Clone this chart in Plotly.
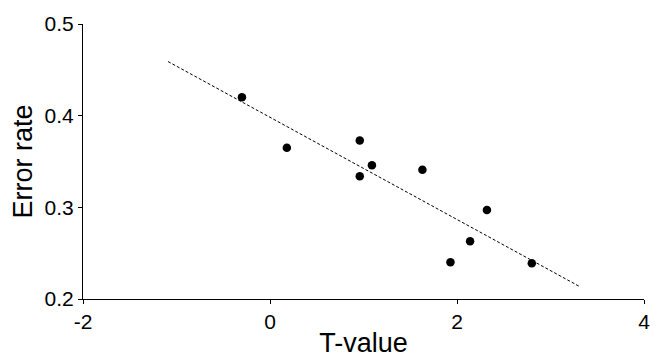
import numpy as np
import plotly.graph_objects as go

# Observations: T-value vs error rate
t_value = [-0.30, 0.18, 0.96, 0.96, 1.09, 1.63, 2.32, 2.14, 1.93, 2.80]
error_rate = [0.420, 0.365, 0.373, 0.334, 0.346, 0.341, 0.297, 0.263, 0.240, 0.239]

# Extent of the fitted regression line
fit_range = [-1.09, 3.32]

x_ticks = [-2, 0, 2, 4]
y_ticks = [0.2, 0.3, 0.4, 0.5]

slope, intercept = np.polyfit(t_value, error_rate, 1)
fit_x = np.array(fit_range)
fit_y = slope * fit_x + intercept

fig = go.Figure()
fig.add_trace(go.Scatter(
    x=fit_x, y=fit_y, mode="lines",
    line=dict(color="black", width=1, dash="3px,2px"),
    hoverinfo="skip", showlegend=False,
))
fig.add_trace(go.Scatter(
    x=t_value, y=error_rate, mode="markers",
    marker=dict(color="black", size=8.5),
    showlegend=False,
))

family = "Liberation Sans, Arial, sans-serif"
axis_font = dict(family=family, size=21, color="black")
title_font = dict(family=family, size=27, color="black")

fig.update_layout(
    width=663, height=364,
    margin=dict(l=83, r=19, t=16, b=63),
    paper_bgcolor="white", plot_bgcolor="white",
    font=axis_font,
    xaxis=dict(
        range=[-2, 4], tickvals=x_ticks, ticktext=[str(v) for v in x_ticks],
        showgrid=False, zeroline=False, showline=True, linecolor="black", linewidth=1,
        ticks="outside", ticklen=4, tickcolor="black", tickfont=axis_font,
        title=dict(text="T-value", font=title_font, standoff=0),
    ),
    yaxis=dict(
        range=[0.2, 0.5], tickvals=y_ticks, ticktext=[f"{v:.1f}" for v in y_ticks],
        showgrid=False, zeroline=False, showline=True, linecolor="black", linewidth=1,
        ticks="outside", ticklen=4, tickcolor="black", tickfont=axis_font,
        title=dict(text="Error rate", font=title_font, standoff=4),
    ),
)

fig.write_html("out.html")
